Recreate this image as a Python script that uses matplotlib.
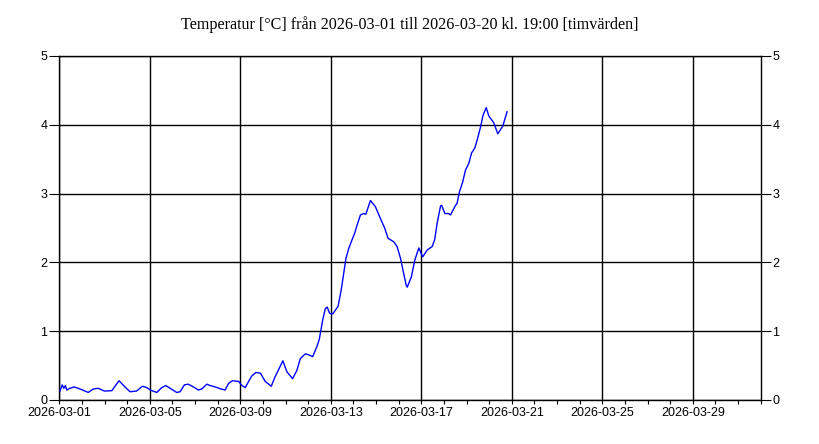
import matplotlib

matplotlib.use("Agg")

import matplotlib.dates as mdates
import matplotlib.pyplot as plt
import pandas as pd

TITLE = "Temperatur [°C] från 2026-03-01 till 2026-03-20 kl. 19:00 [timvärden]"
START = "2026-03-01"
END = "2026-04-01"

# time in days after 2026-03-01 00:00
day_offset = [
    0.03, 0.13, 0.20, 0.27, 0.33, 0.47, 0.66, 0.92, 1.28, 1.50,
    1.73, 1.99, 2.32, 2.64, 2.90, 3.13, 3.42, 3.67, 3.87, 4.05,
    4.31, 4.53, 4.71, 4.90, 5.19, 5.34, 5.53, 5.70, 5.93, 6.15,
    6.30, 6.52, 6.67, 6.89, 7.15, 7.33, 7.48, 7.65, 7.93, 8.07,
    8.22, 8.40, 8.51, 8.69, 8.89, 9.10, 9.37, 9.54, 9.72, 9.88,
    10.06, 10.31, 10.50, 10.65, 10.87, 11.00, 11.20, 11.39, 11.49, 11.64,
    11.76, 11.84, 11.95, 12.08, 12.32, 12.46, 12.57, 12.67, 12.79, 12.94,
    13.05, 13.16, 13.31, 13.45, 13.55, 13.75, 13.97, 14.19, 14.38, 14.53,
    14.78, 14.93, 15.08, 15.22, 15.33, 15.38, 15.56, 15.71, 15.89, 16.06,
    16.26, 16.48, 16.59, 16.70, 16.85, 16.90, 17.04, 17.20, 17.29, 17.48,
    17.58, 17.69, 17.83, 17.95, 18.10, 18.22, 18.36, 18.47, 18.62, 18.73,
    18.87, 18.98, 19.20, 19.38, 19.60, 19.79,
]
temperature = [
    0.13, 0.22, 0.17, 0.21, 0.145, 0.17, 0.19, 0.16, 0.11, 0.16,
    0.17, 0.13, 0.135, 0.28, 0.19, 0.12, 0.13, 0.20, 0.18, 0.14,
    0.11, 0.18, 0.21, 0.17, 0.11, 0.12, 0.22, 0.23, 0.19, 0.145,
    0.16, 0.23, 0.21, 0.19, 0.16, 0.145, 0.24, 0.28, 0.27, 0.21,
    0.18, 0.29, 0.35, 0.40, 0.39, 0.27, 0.20, 0.34, 0.46, 0.57,
    0.41, 0.31, 0.43, 0.60, 0.67, 0.66, 0.63, 0.78, 0.88, 1.16,
    1.33, 1.35, 1.26, 1.25, 1.36, 1.60, 1.84, 2.06, 2.20, 2.33,
    2.42, 2.54, 2.69, 2.71, 2.70, 2.90, 2.81, 2.64, 2.50, 2.35,
    2.30, 2.23, 2.06, 1.84, 1.67, 1.64, 1.79, 2.03, 2.21, 2.08,
    2.18, 2.23, 2.33, 2.57, 2.82, 2.83, 2.71, 2.71, 2.69, 2.81,
    2.86, 3.03, 3.17, 3.34, 3.44, 3.59, 3.66, 3.78, 3.97, 4.14,
    4.25, 4.13, 4.03, 3.87, 3.98, 4.19,
]
y_ticks = [0, 1, 2, 3, 4, 5]
x_tick_dates = ["2026-03-01", "2026-03-05", "2026-03-09", "2026-03-13",
                "2026-03-17", "2026-03-21", "2026-03-25", "2026-03-29"]


def main() -> None:
    times = pd.Timestamp(START) + pd.to_timedelta(day_offset, unit="D")

    fig = plt.figure(figsize=(8.2, 4.44), dpi=100)
    ax = fig.add_axes([0.0723, 0.0991, 0.8554, 0.7748])

    ax.plot(times, temperature, color="#0000ff", linewidth=1.0, zorder=3)

    ax.set_xlim(pd.Timestamp(START), pd.Timestamp(END))
    ax.set_ylim(0, 5)
    ax.set_yticks(y_ticks)

    ax.set_xticks(pd.to_datetime(x_tick_dates))
    ax.xaxis.set_minor_locator(mdates.DayLocator())
    ax.xaxis.set_major_formatter(mdates.DateFormatter("%Y-%m-%d"))

    ax.grid(True, which="major", color="black", linewidth=1.0)
    for side in ax.spines.values():
        side.set_color("black")
        side.set_linewidth(1.0)

    ax.tick_params(axis="x", which="both", direction="out", length=3, width=0.8,
                   pad=2, labelsize=9)
    ax.tick_params(axis="y", which="major", direction="out", length=7, width=0.8,
                   pad=1.5, labelsize=9, left=True, right=True,
                   labelleft=True, labelright=True)
    for label in ax.get_xticklabels() + ax.get_yticklabels():
        label.set_fontfamily("Liberation Sans")

    fig.text(0.5, 0.935, TITLE, ha="center", va="baseline",
             fontsize=11.6, family="Liberation Serif")

    fig.savefig("out.png", dpi=100)
    plt.close(fig)


if __name__ == "__main__":
    main()
